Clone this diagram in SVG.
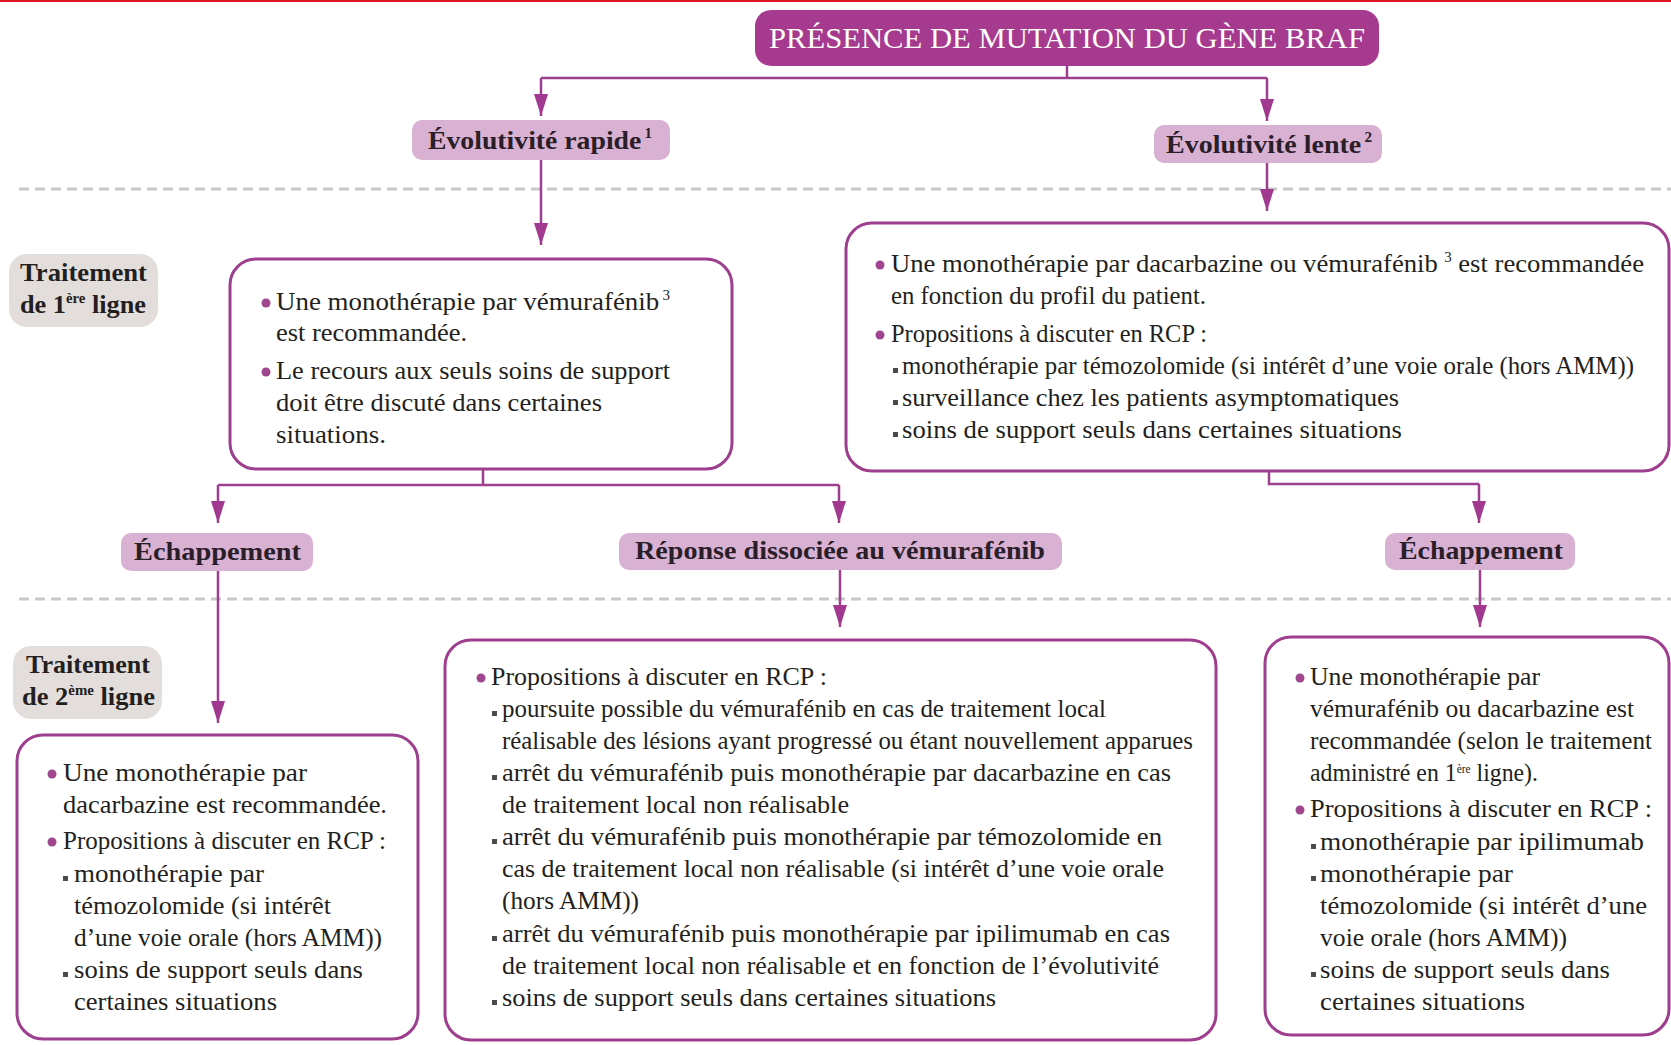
<svg xmlns="http://www.w3.org/2000/svg" width="1671" height="1045" viewBox="0 0 1671 1045">
  <style>
    text { font-family: "Liberation Serif", "DejaVu Serif", serif; }
    .body { font-size: 25px; fill: #231f20; }
    .lbl { font-size: 26px; font-weight: bold; fill: #2a1e29; }
    .row { font-size: 25px; font-weight: bold; fill: #231f20; }
    .title { font-size: 30px; fill: #ffffff; }
    .sup { font-size: 14px; }
    .sup-s { font-size: 12px; }
    .card { fill: #ffffff; stroke: #9d3f8e; stroke-width: 3; }
    .pill { fill: #d9b1d3; }
    .rowbox { fill: #e3dedb; }
    .dot { fill: #a0468f; }
    .sq { fill: #4a4a4a; }
    .sep { stroke: #c9c9c9; stroke-width: 3; stroke-dasharray: 10 6; fill: none; }
    .link { stroke: #9d3f8e; stroke-width: 2.5; fill: none; }
    .arrow { stroke: #9d3f8e; stroke-width: 2.5; fill: none; marker-end: url(#head); }
  </style>
  <defs>
    <marker id="head" markerUnits="userSpaceOnUse" markerWidth="22" markerHeight="14" refX="22" refY="7" orient="auto">
      <path d="M0,0 L22,7 L0,14 z" fill="#a0398f"/>
    </marker>
  </defs>

  <rect width="1671" height="1045" fill="#ffffff"/>
  <rect x="0" y="0" width="1671" height="2" fill="#e0141e"/>

  <!-- phase separators -->
  <line class="sep" x1="19" y1="189" x2="1671" y2="189"/>
  <line class="sep" x1="19" y1="599" x2="1671" y2="599"/>

  <!-- connectors -->
  <g id="connectors">
    <path class="link" d="M1067,66 V78 M541,78 H1267"/>
    <path class="arrow" d="M541,78 V116"/>
    <path class="arrow" d="M1267,78 V121"/>
    <path class="arrow" d="M541,160 V245"/>
    <path class="arrow" d="M1267,163 V211"/>
    <path class="link" d="M483,469 V485 M218,485 H839"/>
    <path class="arrow" d="M218,485 V523"/>
    <path class="arrow" d="M839,485 V523"/>
    <path class="link" d="M1269,471 V484 H1479"/>
    <path class="arrow" d="M1479,484 V523"/>
    <path class="arrow" d="M218,571 V723"/>
    <path class="arrow" d="M840,570 V627"/>
    <path class="arrow" d="M1480,570 V627"/>
  </g>

  <!-- root -->
  <g id="braf">
    <rect x="755" y="10" width="624" height="56" rx="16" fill="#a63a8f"/>
    <text class="title" x="769" y="48" textLength="596" lengthAdjust="spacingAndGlyphs">PRÉSENCE DE MUTATION DU GÈNE BRAF</text>
  </g>

  <g id="evol-rapide">
    <rect class="pill" x="412" y="120" width="258" height="40" rx="10"/>
    <text class="lbl" x="428" y="149" textLength="224" lengthAdjust="spacingAndGlyphs">Évolutivité rapide<tspan class="sup" dx="3" baseline-shift="11">1</tspan></text>
  </g>

  <g id="evol-lente">
    <rect class="pill" x="1154" y="125" width="228" height="38" rx="10"/>
    <text class="lbl" x="1166" y="153" textLength="206" lengthAdjust="spacingAndGlyphs">Évolutivité lente<tspan class="sup" dx="3" baseline-shift="11">2</tspan></text>
  </g>

  <g id="ligne-1">
    <rect class="rowbox" x="9" y="254" width="149" height="73" rx="18"/>
    <text class="row" x="20" y="281" textLength="127" lengthAdjust="spacingAndGlyphs">Traitement</text>
    <text class="row" x="20" y="313" textLength="126" lengthAdjust="spacingAndGlyphs">de 1<tspan class="sup" baseline-shift="10">ère</tspan> ligne</text>
  </g>

  <g id="rapide-l1">
    <rect class="card" x="230" y="259" width="502" height="210" rx="26"/>
    <circle class="dot" cx="266" cy="303" r="4.5"/>
    <circle class="dot" cx="266" cy="372" r="4.5"/>
    <text class="body" x="276" y="310" textLength="394" lengthAdjust="spacingAndGlyphs">Une monothérapie par vémurafénib<tspan class="sup" dx="3" baseline-shift="10">3</tspan></text>
    <text class="body" x="276" y="341" textLength="191" lengthAdjust="spacingAndGlyphs">est recommandée.</text>
    <text class="body" x="276" y="379" textLength="394" lengthAdjust="spacingAndGlyphs">Le recours aux seuls soins de support</text>
    <text class="body" x="276" y="411" textLength="326" lengthAdjust="spacingAndGlyphs">doit être discuté dans certaines</text>
    <text class="body" x="276" y="443" textLength="110" lengthAdjust="spacingAndGlyphs">situations.</text>
  </g>

  <g id="lente-l1">
    <rect class="card" x="846" y="223" width="823" height="248" rx="26"/>
    <circle class="dot" cx="880" cy="265" r="4.5"/>
    <circle class="dot" cx="880" cy="335" r="4.5"/>
    <rect class="sq" x="893" y="368" width="5" height="5"/>
    <rect class="sq" x="893" y="400" width="5" height="5"/>
    <rect class="sq" x="893" y="432" width="5" height="5"/>
    <text class="body" x="891" y="272" textLength="753" lengthAdjust="spacingAndGlyphs">Une monothérapie par dacarbazine ou vémurafénib<tspan class="sup" dx="6" baseline-shift="10">3</tspan> est recommandée</text>
    <text class="body" x="891" y="304" textLength="315" lengthAdjust="spacingAndGlyphs">en fonction du profil du patient.</text>
    <text class="body" x="891" y="342" textLength="316" lengthAdjust="spacingAndGlyphs">Propositions à discuter en RCP :</text>
    <text class="body" x="902" y="374" textLength="732" lengthAdjust="spacingAndGlyphs">monothérapie par témozolomide (si intérêt d’une voie orale (hors AMM))</text>
    <text class="body" x="902" y="406" textLength="497" lengthAdjust="spacingAndGlyphs">surveillance chez les patients asymptomatiques</text>
    <text class="body" x="902" y="438" textLength="500" lengthAdjust="spacingAndGlyphs">soins de support seuls dans certaines situations</text>
  </g>

  <g id="echap-gauche">
    <rect class="pill" x="121" y="533" width="192" height="38" rx="10"/>
    <text class="lbl" x="134" y="560" textLength="167" lengthAdjust="spacingAndGlyphs">Échappement</text>
  </g>

  <g id="reponse-dissociee">
    <rect class="pill" x="619" y="533" width="443" height="37" rx="10"/>
    <text class="lbl" x="635" y="559" textLength="410" lengthAdjust="spacingAndGlyphs">Réponse dissociée au vémurafénib</text>
  </g>

  <g id="echap-droite">
    <rect class="pill" x="1385" y="533" width="190" height="37" rx="10"/>
    <text class="lbl" x="1399" y="559" textLength="164" lengthAdjust="spacingAndGlyphs">Échappement</text>
  </g>

  <g id="ligne-2">
    <rect class="rowbox" x="13" y="646" width="149" height="73" rx="18"/>
    <text class="row" x="26" y="673" textLength="124" lengthAdjust="spacingAndGlyphs">Traitement</text>
    <text class="row" x="22" y="705" textLength="133" lengthAdjust="spacingAndGlyphs">de 2<tspan class="sup" baseline-shift="10">ème</tspan> ligne</text>
  </g>

  <g id="echap-gauche-l2">
    <rect class="card" x="17" y="735" width="401" height="304" rx="26"/>
    <circle class="dot" cx="52" cy="774" r="4.5"/>
    <circle class="dot" cx="52" cy="842" r="4.5"/>
    <rect class="sq" x="63" y="876" width="5" height="5"/>
    <rect class="sq" x="63" y="972" width="5" height="5"/>
    <text class="body" x="63" y="781" textLength="244" lengthAdjust="spacingAndGlyphs">Une monothérapie par</text>
    <text class="body" x="63" y="813" textLength="324" lengthAdjust="spacingAndGlyphs">dacarbazine est recommandée.</text>
    <text class="body" x="63" y="849" textLength="323" lengthAdjust="spacingAndGlyphs">Propositions à discuter en RCP :</text>
    <text class="body" x="74" y="882" textLength="190" lengthAdjust="spacingAndGlyphs">monothérapie par</text>
    <text class="body" x="74" y="914" textLength="257" lengthAdjust="spacingAndGlyphs">témozolomide (si intérêt</text>
    <text class="body" x="74" y="946" textLength="308" lengthAdjust="spacingAndGlyphs">d’une voie orale (hors AMM))</text>
    <text class="body" x="74" y="978" textLength="289" lengthAdjust="spacingAndGlyphs">soins de support seuls dans</text>
    <text class="body" x="74" y="1010" textLength="203" lengthAdjust="spacingAndGlyphs">certaines situations</text>
  </g>

  <g id="reponse-l2">
    <rect class="card" x="445" y="640" width="771" height="400" rx="26"/>
    <circle class="dot" cx="481" cy="678" r="4.5"/>
    <rect class="sq" x="492" y="711" width="5" height="5"/>
    <rect class="sq" x="492" y="775" width="5" height="5"/>
    <rect class="sq" x="492" y="839" width="5" height="5"/>
    <rect class="sq" x="492" y="936" width="5" height="5"/>
    <rect class="sq" x="492" y="1000" width="5" height="5"/>
    <text class="body" x="491" y="685" textLength="336" lengthAdjust="spacingAndGlyphs">Propositions à discuter en RCP :</text>
    <text class="body" x="502" y="717" textLength="604" lengthAdjust="spacingAndGlyphs">poursuite possible du vémurafénib en cas de traitement local</text>
    <text class="body" x="502" y="749" textLength="691" lengthAdjust="spacingAndGlyphs">réalisable des lésions ayant progressé ou étant nouvellement apparues</text>
    <text class="body" x="502" y="781" textLength="669" lengthAdjust="spacingAndGlyphs">arrêt du vémurafénib puis monothérapie par dacarbazine en cas</text>
    <text class="body" x="502" y="813" textLength="347" lengthAdjust="spacingAndGlyphs">de traitement local non réalisable</text>
    <text class="body" x="502" y="845" textLength="660" lengthAdjust="spacingAndGlyphs">arrêt du vémurafénib puis monothérapie par témozolomide en</text>
    <text class="body" x="502" y="877" textLength="662" lengthAdjust="spacingAndGlyphs">cas de traitement local non réalisable (si intérêt d’une voie orale</text>
    <text class="body" x="502" y="909" textLength="137" lengthAdjust="spacingAndGlyphs">(hors AMM))</text>
    <text class="body" x="502" y="942" textLength="668" lengthAdjust="spacingAndGlyphs">arrêt du vémurafénib puis monothérapie par ipilimumab en cas</text>
    <text class="body" x="502" y="974" textLength="657" lengthAdjust="spacingAndGlyphs">de traitement local non réalisable et en fonction de l’évolutivité</text>
    <text class="body" x="502" y="1006" textLength="494" lengthAdjust="spacingAndGlyphs">soins de support seuls dans certaines situations</text>
  </g>

  <g id="echap-droite-l2">
    <rect class="card" x="1265" y="637" width="404" height="398" rx="26"/>
    <circle class="dot" cx="1300" cy="678" r="4.5"/>
    <circle class="dot" cx="1300" cy="810" r="4.5"/>
    <rect class="sq" x="1311" y="844" width="5" height="5"/>
    <rect class="sq" x="1311" y="876" width="5" height="5"/>
    <rect class="sq" x="1311" y="972" width="5" height="5"/>
    <text class="body" x="1310" y="685" textLength="230" lengthAdjust="spacingAndGlyphs">Une monothérapie par</text>
    <text class="body" x="1310" y="717" textLength="324" lengthAdjust="spacingAndGlyphs">vémurafénib ou dacarbazine est</text>
    <text class="body" x="1310" y="749" textLength="342" lengthAdjust="spacingAndGlyphs">recommandée (selon le traitement</text>
    <text class="body" x="1310" y="781" textLength="228" lengthAdjust="spacingAndGlyphs">administré en 1<tspan class="sup-s" baseline-shift="8">ère</tspan> ligne).</text>
    <text class="body" x="1310" y="817" textLength="342" lengthAdjust="spacingAndGlyphs">Propositions à discuter en RCP :</text>
    <text class="body" x="1320" y="850" textLength="324" lengthAdjust="spacingAndGlyphs">monothérapie par ipilimumab</text>
    <text class="body" x="1320" y="882" textLength="193" lengthAdjust="spacingAndGlyphs">monothérapie par</text>
    <text class="body" x="1320" y="914" textLength="327" lengthAdjust="spacingAndGlyphs">témozolomide (si intérêt d’une</text>
    <text class="body" x="1320" y="946" textLength="247" lengthAdjust="spacingAndGlyphs">voie orale (hors AMM))</text>
    <text class="body" x="1320" y="978" textLength="290" lengthAdjust="spacingAndGlyphs">soins de support seuls dans</text>
    <text class="body" x="1320" y="1010" textLength="205" lengthAdjust="spacingAndGlyphs">certaines situations</text>
  </g>
</svg>
